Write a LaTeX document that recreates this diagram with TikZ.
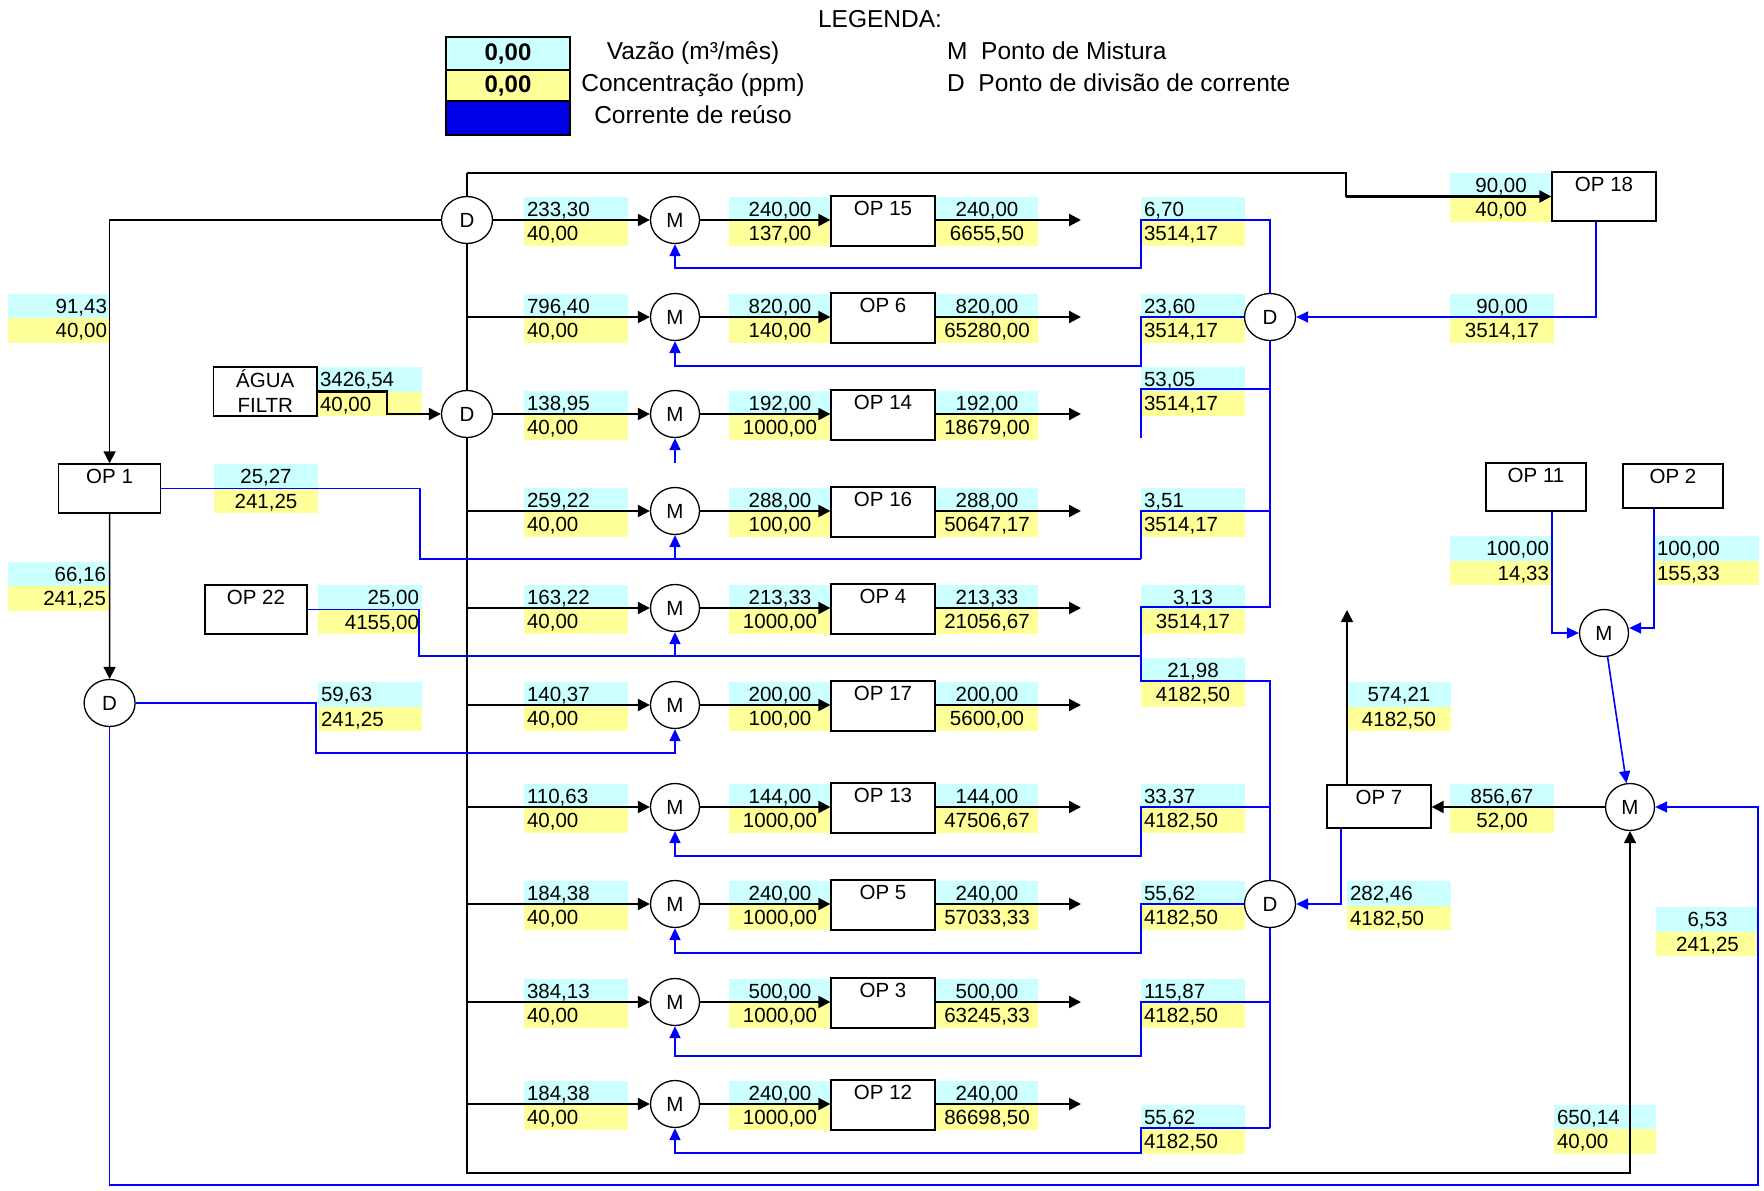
\documentclass[tikz,border=0pt]{standalone}
\usepackage{fontspec}
\setmainfont{Liberation Sans}
\usetikzlibrary{arrows.meta,shapes.geometric}
\definecolor{qcyan}{RGB}{204,255,255}
\definecolor{cyel}{RGB}{255,255,153}
\definecolor{rblue}{RGB}{0,0,255}
\definecolor{legblue}{RGB}{0,0,230}

% flow value pair: cyan cell (flow) above yellow cell (concentration)
% #1 name, #2 left x, #3 right x, #4 top y, #5 alignment, #6 flow, #7 concentration
\newcommand\flowcell[7]{%
  \pgfmathsetmacro\cw{#3-(#2)}%
  \pgfmathsetmacro\tw{#3-(#2)-6}%
  \pgfmathsetmacro\cx{(#2+#3)/2}%
  \pgfmathsetmacro\qy{#4+12.25}%
  \pgfmathsetmacro\cy{#4+36.75}%
  \node[cell,fill=qcyan,minimum width=\cw pt,text width=\tw pt,align=#5] (#1-q) at (\cx,\qy) {#6};%
  \node[cell,fill=cyel,minimum width=\cw pt,text width=\tw pt,align=#5] (#1-c) at (\cx,\cy) {#7};%
}
% operation box with its name at the top
% #1 name, #2 left x, #3 right x, #4 top y, #5 bottom y, #6 text
\newcommand\procbox[6]{%
  \pgfmathsetmacro\bw{#3-(#2)}%
  \pgfmathsetmacro\bh{#5-(#4)}%
  \pgfmathsetmacro\bx{(#2+#3)/2}%
  \pgfmathsetmacro\by{(#4+#5)/2}%
  \pgfmathsetmacro\bd{#5-(#4)-19.7}%
  \node[opbox,minimum width=\bw pt,minimum height=\bh pt,text depth=\bd pt] (#1) at (\bx,\by) {#6};%
}

\begin{document}
\begin{tikzpicture}[x=1pt,y=-1pt,
  num/.style={font=\fontsize{20.5}{24}\selectfont},
  cell/.style={num,draw=none,inner xsep=3pt,inner ysep=0pt,minimum height=24.5pt,text height=14.7pt,text depth=0pt},
  mixpt/.style={ellipse,draw,fill=white,line width=1.3pt,minimum width=49pt,minimum height=47pt,inner sep=0pt,num,text height=14.7pt,text depth=0pt},
  divpt/.style={mixpt,minimum width=51pt},
  opbox/.style={draw,fill=white,line width=1.3pt,inner sep=0pt,num,text height=19.7pt},
  feed/.style={line width=2.2pt,-{Triangle[length=12pt,width=12pt]}},
  trunk/.style={line width=1.4pt},
  trunkarrow/.style={line width=1.6pt,-{Triangle[length=12pt,width=12pt]}},
  reuseline/.style={draw=rblue,line width=1.6pt},
  reusearrow/.style={draw=rblue,line width=1.6pt,-{Triangle[length=12pt,width=11pt]}},
  legtext/.style={font=\fontsize{24.5}{29}\selectfont,inner sep=0pt,text height=17.5pt,text depth=4pt},
  legbox/.style={draw,line width=2pt,minimum width=124pt,inner sep=0pt,font=\fontsize{24}{28}\selectfont\bfseries}
]
\useasboundingbox (0,0) rectangle (1764,1191);

% ---------- legend ----------
\node[legtext] (legtitle) at (880,21) {LEGENDA:};
\node[legbox,fill=qcyan,minimum height=33pt] (legq) at (508,53.5) {0,00};
\node[legbox,fill=cyel,minimum height=31pt] (legc) at (508,85.5) {0,00};
\node[legbox,fill=legblue,minimum height=34pt] (legr) at (508,118) {};
\node[legtext] (legqt) at (693,53) {Vazão (m³/mês)};
\node[legtext] (legct) at (693,85) {Concentração (ppm)};
\node[legtext] (legrt) at (693,117) {Corrente de reúso};
\node[legtext,anchor=west] (legm) at (947,53) {M\ \ Ponto de Mistura};
\node[legtext,anchor=west] (legd) at (947,85) {D\ \ Ponto de divisão de corrente};

% ---------- value cells outside the rows ----------
\flowcell{v91}{8}{110}{293.5}{right}{91,43}{40,00}
\flowcell{v66}{8}{109}{561.5}{right}{66,16}{241,25}
\flowcell{vaf}{317}{422}{367}{left}{3426,54}{40,00}
\flowcell{v25}{214}{318}{464}{center}{25,27}{241,25}
\flowcell{v22}{318}{422}{585}{right}{25,00}{4155,00}
\flowcell{v59}{318}{422}{682}{left}{59,63}{241,25}
\flowcell{v18a}{1450}{1552}{172.5}{center}{90,00}{40,00}
\flowcell{v18b}{1450}{1554}{293.5}{center}{90,00}{3514,17}
\flowcell{v574}{1347}{1451}{682}{center}{574,21}{4182,50}
\flowcell{v856}{1450}{1554}{783.5}{center}{856,67}{52,00}
\flowcell{v282}{1347}{1451}{881}{left}{282,46}{4182,50}
\flowcell{v11}{1450}{1552}{536}{right}{100,00}{14,33}
\flowcell{v2}{1654}{1759}{536}{left}{100,00}{155,33}
\flowcell{v653}{1656}{1759}{907}{center}{6,53}{241,25}
\flowcell{v650}{1554}{1656}{1104.5}{left}{650,14}{40,00}

% reuse streams leaving the two right-hand split points
\flowcell{f1}{1141}{1245}{196.5}{left}{6,70}{3514,17}
\flowcell{f2}{1141}{1245}{293.5}{left}{23,60}{3514,17}
\flowcell{f3}{1141}{1245}{366.5}{left}{53,05}{3514,17}
\flowcell{f4}{1141}{1245}{487.5}{left}{3,51}{3514,17}
\flowcell{f5}{1141}{1245}{584.5}{center}{3,13}{3514,17}
\flowcell{f6}{1141}{1245}{657.5}{center}{21,98}{4182,50}
\flowcell{f7}{1141}{1245}{783.5}{left}{33,37}{4182,50}
\flowcell{f8}{1141}{1245}{880.5}{left}{55,62}{4182,50}
\flowcell{f9}{1141}{1245}{978.5}{left}{115,87}{4182,50}
\flowcell{f10}{1141}{1245}{1104.5}{left}{55,62}{4182,50}

% ---------- the ten operation rows: mixer, operation, outlet ----------
\foreach \i/\r/\aq/\ac/\bq/\bc/\op/\cq/\cc in {
  1/220/{233,30}/{40,00}/{240,00}/{137,00}/{OP 15}/{240,00}/{6655,50},
  2/317/{796,40}/{40,00}/{820,00}/{140,00}/{OP 6}/{820,00}/{65280,00},
  3/414/{138,95}/{40,00}/{192,00}/{1000,00}/{OP 14}/{192,00}/{18679,00},
  4/511/{259,22}/{40,00}/{288,00}/{100,00}/{OP 16}/{288,00}/{50647,17},
  5/608/{163,22}/{40,00}/{213,33}/{1000,00}/{OP 4}/{213,33}/{21056,67},
  6/705/{140,37}/{40,00}/{200,00}/{100,00}/{OP 17}/{200,00}/{5600,00},
  7/807/{110,63}/{40,00}/{144,00}/{1000,00}/{OP 13}/{144,00}/{47506,67},
  8/904/{184,38}/{40,00}/{240,00}/{1000,00}/{OP 5}/{240,00}/{57033,33},
  9/1002/{384,13}/{40,00}/{500,00}/{1000,00}/{OP 3}/{500,00}/{63245,33},
  10/1104/{184,38}/{40,00}/{240,00}/{1000,00}/{OP 12}/{240,00}/{86698,50}}
{
  \flowcell{a\i}{524}{628}{\r-23.5}{left}{\aq}{\ac}
  \flowcell{b\i}{729}{831}{\r-23.5}{center}{\bq}{\bc}
  \flowcell{c\i}{936}{1038}{\r-23.5}{center}{\cq}{\cc}
  \node[mixpt] (m\i) at (675,\r) {M};
  \procbox{op\i}{831}{935}{\r-24}{\r+26}{\op}
  \coordinate (out\i) at (1081,\r);
  \draw[feed] (m\i.east) -- (op\i.west |- m\i.east);
  \draw[feed] (op\i.east |- m\i.east) -- (out\i);
}

% ---------- other units ----------
\procbox{OP1}{58.5}{160.7}{464}{513}{OP 1}
\procbox{OP22}{205}{307}{585}{634}{OP 22}
\procbox{OP18}{1552}{1656}{172}{221}{OP 18}
\procbox{OP11}{1486}{1586}{463}{511}{OP 11}
\procbox{OP2}{1623}{1723}{464}{508}{OP 2}
\procbox{OP7}{1327}{1431}{785}{828}{OP 7}
\node[draw,fill=white,line width=1.3pt,inner sep=0pt,minimum width=103.5pt,minimum height=49pt,
      align=center,font=\fontsize{20.5}{25}\selectfont] (AF) at (265.25,391.5) {ÁGUA\\FILTR};

\node[divpt] (D1) at (467,220) {D};
\node[divpt] (D2) at (467,414) {D};
\node[divpt] (D3) at (109.6,703) {D};
\node[divpt] (D4) at (1270,317) {D};
\node[divpt] (D5) at (1270,904) {D};
\node[mixpt] (m11) at (1604,633) {M};
\node[mixpt] (m12) at (1630,807) {M};

% ---------- fresh water distribution (black) ----------
\coordinate (top) at (467,173);
\coordinate (bend) at (1346,173);
\coordinate (bl) at (467,1173);
\draw[trunk] (top) -- (D1.north);
\draw[trunk] (D1.south) -- (D2.north);
\draw[trunkarrow] (D2.south) -- (bl) -| (m12.south);
\draw[trunk] (top) -- (bend) -- (bend |- OP18.west);
\draw[feed] (bend |- OP18.west) -- (OP18.west);
\draw[trunkarrow] (D1.west) -| (OP1.north);
\draw[feed] (AF.east) -- ++(69,0) |- (D2.west);
\draw[trunkarrow] (OP1.south) -- (D3.north);
\draw[feed] (D1.east) -- (m1.west);
\draw[feed] (D2.east) -- (m3.west);
\foreach \i/\r in {2/317,4/511,5/608,6/705,7/807,8/904,9/1002,10/1104}{
  \coordinate (in\i) at (468,\r);
  \draw[feed] (in\i) -- (m\i.west);
}
\draw[feed] (m12.west) -- (OP7.east |- m12.west);
\coordinate (op7out) at (1347,610);
\draw[trunkarrow] (op7out |- OP7.north) -- (op7out);

% ---------- reuse streams (blue) ----------
% first split point, fed by OP 18
\draw[reusearrow] ([xshift=-8pt]OP18.south) |- (D4.east);
\draw[reusearrow] (D4.north) |- (1141,220) -- (1141,268) -| (m1.south);
\draw[reusearrow] (D4.west) -- (1141,317) -- (1141,366) -| (m2.south);
\coordinate (t3) at (1270,389);
\coordinate (e3) at (1141,438);
\draw[reuseline] (t3) -| (e3);
\coordinate (s3) at (675,463);
\draw[reusearrow] (s3) -- (m3.south);
\coordinate (t4) at (1270,511);
\coordinate (j4) at (1141,559);
\draw[reuseline] (t4) -| (j4);
\draw[reuseline] (OP1.east) -| (420,559) -- (j4);
\draw[reusearrow] (m4.south |- j4) -- (m4.south);
\coordinate (t5) at (1270,607);
\coordinate (j5) at (1141,656);
\draw[reuseline] (D4.south) -- (t5) -| (j5);
\draw[reuseline] (OP22.east) -| (419,656) -- (j5);
\draw[reusearrow] (m5.south |- j5) -- (m5.south);
% second split point, fed by OP 7
\draw[reusearrow] ([xshift=-38pt]OP7.south) |- (D5.east);
\coordinate (t6) at (1270,681);
\draw[reuseline] (D5.north) -- (t6) -| (j5);
\coordinate (t7) at (1270,807);
\draw[reusearrow] (t7) -- (1141,807) -- (1141,856) -| (m7.south);
\draw[reusearrow] (D5.west) -- (1141,904) -- (1141,953) -| (m8.south);
\coordinate (t9) at (1270,1002);
\draw[reusearrow] (t9) -- (1141,1002) -- (1141,1056) -| (m9.south);
\coordinate (t10) at (1270,1128);
\draw[reuseline] (D5.south) -- (t10);
\draw[reusearrow] (t10) -- (1141,1128) -- (1141,1153) -| (m10.south);
% OP 1 split point
\draw[reusearrow] (D3.east) -| (316,753) -| (m6.south);
\coordinate (rb) at (1758,1185);
\draw[reusearrow] (D3.south) |- (rb) |- (m12.east);
% OP 11 and OP 2 mixer
\draw[reusearrow] ([xshift=16pt]OP11.south) |- (m11.west);
\draw[reusearrow] ([xshift=-19pt]OP2.south) |- ([yshift=5pt]m11.east);
\draw[reusearrow] (m11) -- (m12);
\end{tikzpicture}
\end{document}
